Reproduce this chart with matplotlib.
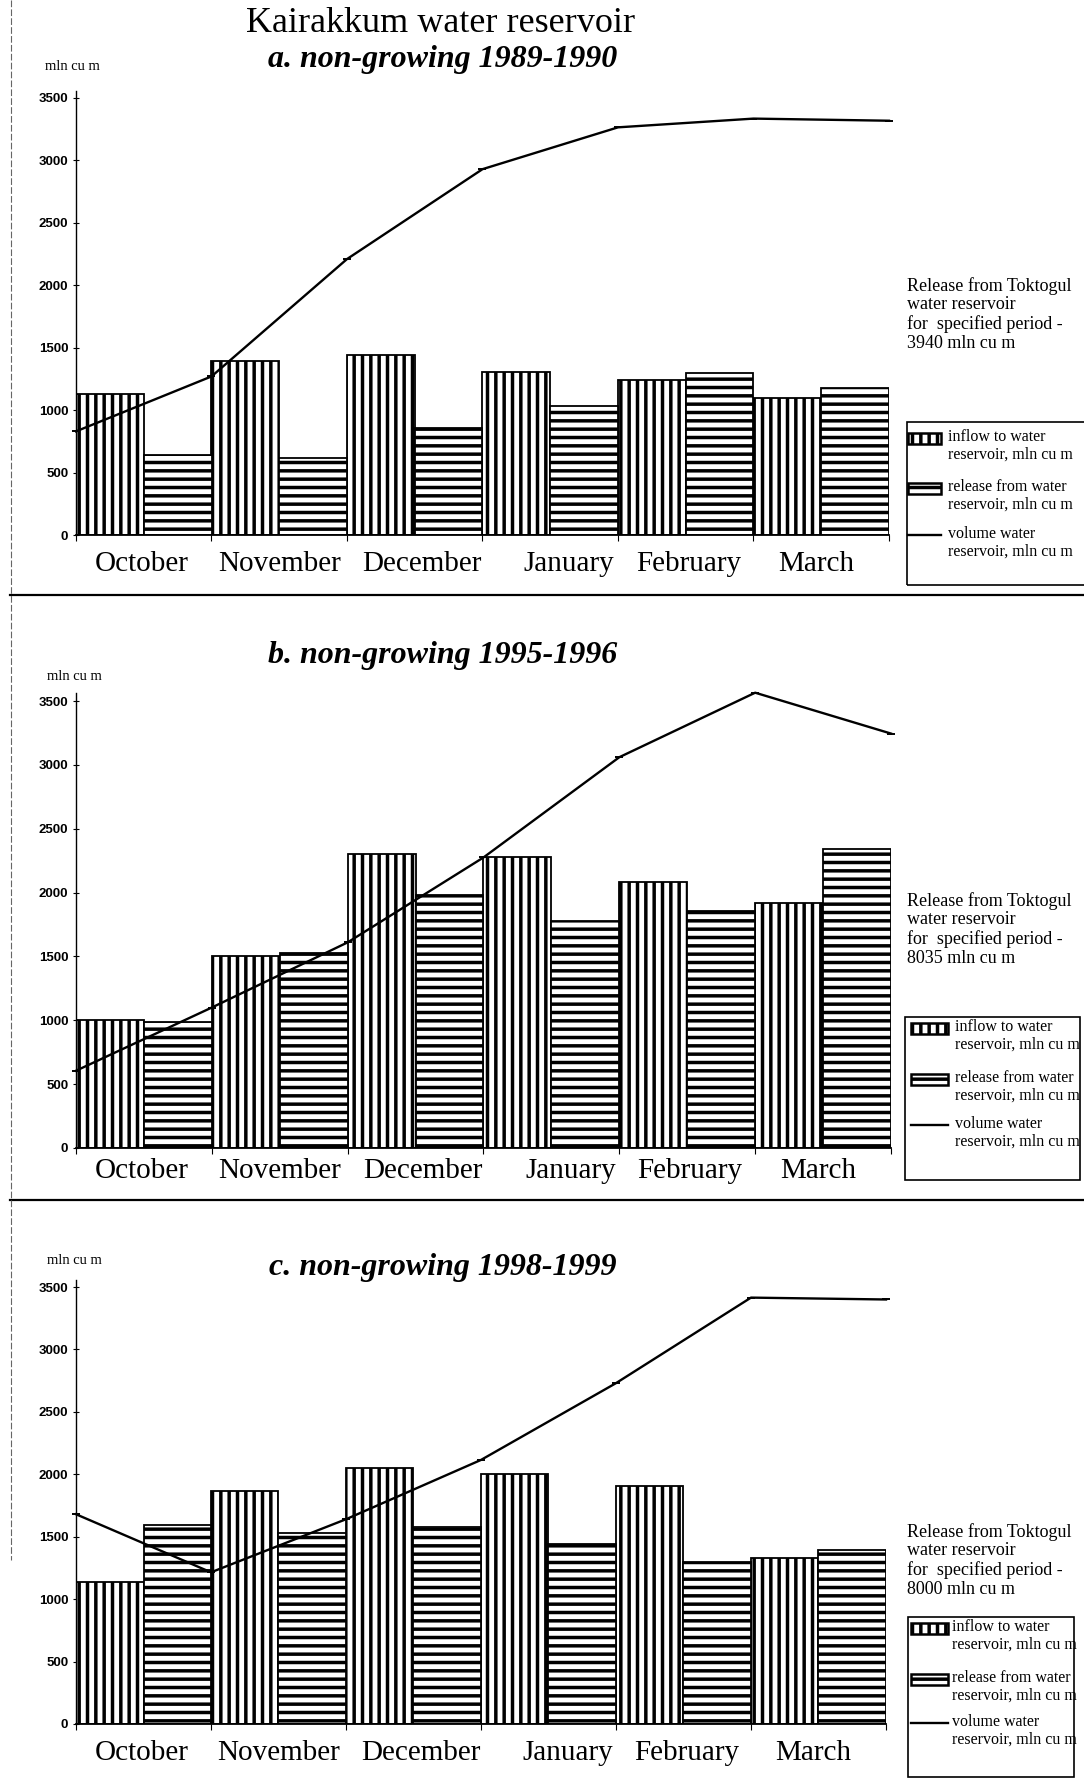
import matplotlib
matplotlib.use("Agg")
import matplotlib.pyplot as plt
from matplotlib.patches import Rectangle
from matplotlib.lines import Line2D
from matplotlib.transforms import blended_transform_factory
import numpy as np

# ---------------- data ----------------
months = ["October", "November", "December", "January", "February", "March"]

inflow_a = [1130, 1390, 1440, 1305, 1245, 1100]
release_a = [640, 615, 860, 1030, 1295, 1175]
volume_a = [830, 1270, 2210, 2930, 3265, 3335, 3318]

inflow_b = [1000, 1500, 2300, 2275, 2085, 1920]
release_b = [990, 1530, 1980, 1780, 1855, 2345]
volume_b = [605, 1100, 1610, 2275, 3060, 3565, 3245]

inflow_c = [1140, 1870, 2050, 2000, 1910, 1330]
release_c = [1590, 1530, 1575, 1440, 1300, 1395]
volume_c = [1680, 1215, 1640, 2115, 2730, 3415, 3400]

yticks = [0, 500, 1000, 1500, 2000, 2500, 3000, 3500]
main_title = "Kairakkum water reservoir"
subtitles = ["a. non-growing 1989-1990", "b. non-growing 1995-1996", "c. non-growing 1998-1999"]
toktogul_release = [3940, 8035, 8000]
legend_labels = ["inflow to water\nreservoir, mln cu m",
                 "release from water\nreservoir, mln cu m",
                 "volume water\nreservoir, mln cu m"]
unit_label = "mln cu m"

# ---------------- layout (pixels of 1084x1780 canvas) ----------------
W, H = 1084, 1780
def fx(px):
    return px / W
def fy(py):
    return 1 - py / H

SERIF = "Liberation Serif"
SANS = "Liberation Sans"
plt.rcParams["hatch.linewidth"] = 2.5

fig = plt.figure(figsize=(W / 100, H / 100), dpi=100)
fig.patch.set_facecolor("white")

panels = [
    dict(inflow=inflow_a, release=release_a, volume=volume_a,
         left=76, right=889, zero=535, y3500=98, month_y=564,
         sub_y=60, unit_xy=(72, 66), text_top=277, text_x=907,
         box=(907, 422, 1095, 585), hx=(908, 941), tx=948, ey=(438, 488, 535)),
    dict(inflow=inflow_b, release=release_b, volume=volume_b,
         left=76, right=891, zero=1148, y3500=701, month_y=1171,
         sub_y=656, unit_xy=(74, 676), text_top=892, text_x=907,
         box=(905, 1017, 1080, 1180), hx=(911, 948), tx=955, ey=(1028, 1079, 1125)),
    dict(inflow=inflow_c, release=release_c, volume=volume_c,
         left=76, right=886, zero=1724, y3500=1287, month_y=1753,
         sub_y=1267, unit_xy=(74, 1260), text_top=1523, text_x=907,
         box=(908, 1617, 1074, 1777), hx=(911, 948), tx=952, ey=(1628, 1679, 1723)),
]
month_dx = [-2, 0, 7, 19, 3, -5]

fig.text(fx(441), fy(24), main_title, ha="center", va="center",
         fontsize=26, family=SERIF)

for i, p in enumerate(panels):
    ymax = 3560
    top = p["zero"] - (p["zero"] - p["y3500"]) * ymax / 3500
    ax = fig.add_axes([fx(p["left"]), fy(p["zero"]), (p["right"] - p["left"]) / W,
                       (p["zero"] - top) / H])
    x = np.arange(len(months))
    ax.bar(x + 0.25, p["inflow"], width=0.5, facecolor="white", edgecolor="black",
           hatch="||", linewidth=1.3, zorder=2)
    ax.bar(x + 0.75, p["release"], width=0.5, facecolor="white", edgecolor="black",
           hatch="--", linewidth=1.3, zorder=2)
    ax.plot(np.arange(len(p["volume"])), p["volume"], color="black", lw=1.7,
            marker="_", ms=6, mew=1.4, zorder=3, clip_on=False)
    ax.set_xlim(0, 6)
    ax.set_ylim(0, ymax)
    ax.set_yticks(yticks)
    ax.set_yticklabels([str(t) for t in yticks], family=SANS, fontweight="bold",
                       fontsize=9.5)
    ax.set_xticks(range(7))
    ax.set_xticklabels([])
    ax.tick_params(axis="y", direction="inout", length=5, width=0.8, pad=3)
    ax.tick_params(axis="x", direction="out", length=4, width=0.8)
    for s in ["top", "right"]:
        ax.spines[s].set_visible(False)
    ax.spines["left"].set_linewidth(1.0)
    ax.spines["bottom"].set_linewidth(1.3)
    ax.patch.set_alpha(0)

    tr = blended_transform_factory(ax.transData, fig.transFigure)
    unit_px = (p["right"] - p["left"]) / 6
    for j, m in enumerate(months):
        ax.text(j + 0.5 + month_dx[j] / unit_px, fy(p["month_y"]), m, transform=tr,
                ha="center", va="center", fontsize=21, family=SERIF)

    fig.text(fx(443), fy(p["sub_y"]), subtitles[i], ha="center", va="center",
             fontsize=23, family=SERIF, fontweight="bold", fontstyle="italic")
    fig.text(fx(p["unit_xy"][0]), fy(p["unit_xy"][1]), unit_label, ha="center",
             va="center", fontsize=10.5, family=SERIF)
    fig.text(fx(p["text_x"]), fy(p["text_top"]),
             "Release from Toktogul\nwater reservoir\nfor  specified period -\n%d mln cu m"
             % toktogul_release[i],
             ha="left", va="top", fontsize=13, family=SERIF, linespacing=1.12)

    # legend box
    x0, y0, x1, y1 = p["box"]
    fig.patches.append(Rectangle((fx(x0), fy(y1)), fx(x1) - fx(x0), fy(y0) - fy(y1),
                                 transform=fig.transFigure, fill=False,
                                 edgecolor="black", lw=1.2))
    hx0, hx1 = p["hx"]
    hh = 11
    for k, hatch in enumerate(["||", "--"]):
        cy = p["ey"][k]
        fig.patches.append(Rectangle((fx(hx0), fy(cy + hh / 2)), fx(hx1) - fx(hx0),
                                     hh / H, transform=fig.transFigure,
                                     facecolor="white", edgecolor="black",
                                     hatch=hatch, lw=1.8))
    cy = p["ey"][2]
    fig.lines.append(Line2D([fx(hx0), fx(hx1)], [fy(cy), fy(cy)],
                            transform=fig.transFigure, color="black", lw=1.7))
    for k in range(3):
        fig.text(fx(p["tx"]), fy(p["ey"][k] - 9), legend_labels[k], ha="left",
                 va="top", fontsize=11.5, family=SERIF, linespacing=1.1)

# separators and scan border
for ysep in (595, 1200):
    fig.lines.append(Line2D([fx(10), 1], [fy(ysep), fy(ysep)],
                            transform=fig.transFigure, color="black", lw=1.6))
fig.lines.append(Line2D([fx(11), fx(11)], [fy(0), fy(1560)],
                        transform=fig.transFigure, color="0.4", lw=0.8,
                        linestyle=(0, (6, 2))))

fig.savefig("out.png", dpi=100, facecolor="white")
